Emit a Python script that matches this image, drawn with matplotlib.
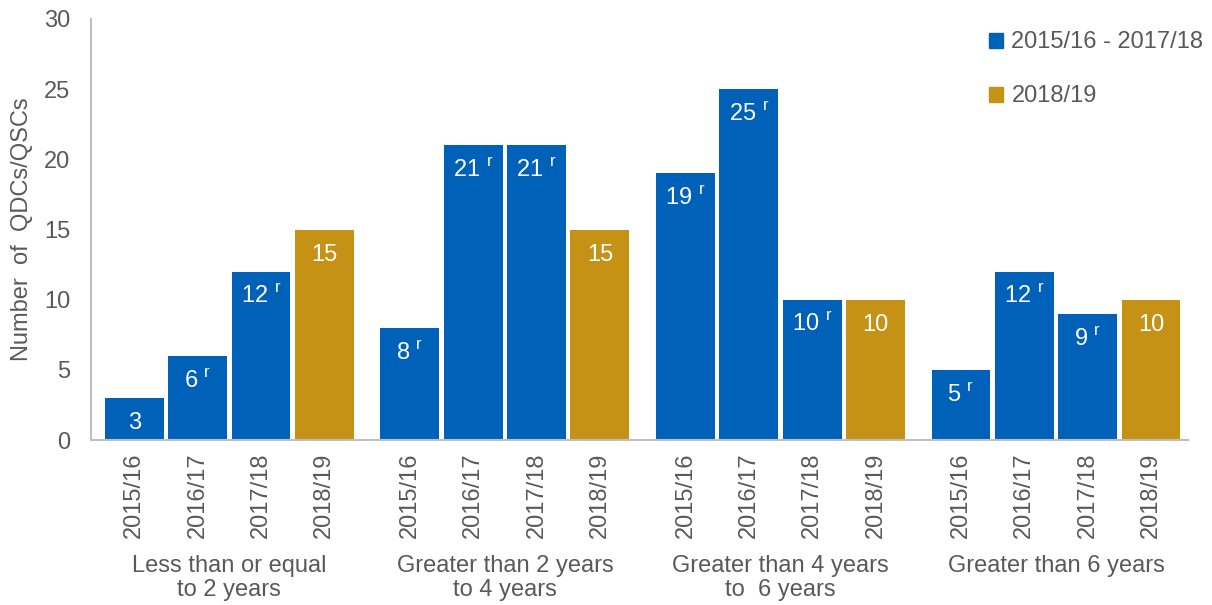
import numpy as np
import matplotlib.pyplot as plt

# Number of QDCs/QSCs by time band and year
grupos = ["Less than or equal\nto 2 years", "Greater than 2 years\nto 4 years",
          "Greater than 4 years\nto  6 years", "Greater than 6 years"]
anios = ["2015/16", "2016/17", "2017/18", "2018/19"]
valores = [
    [3, 6, 12, 15],
    [8, 21, 21, 15],
    [19, 25, 10, 10],
    [5, 12, 9, 10],
]
# revised figures are flagged with an "r"
revisado = [
    [False, True, True, False],
    [True, True, True, False],
    [True, True, True, False],
    [True, True, True, False],
]
series = ["2015/16 - 2017/18", "2018/19"]

AZUL = "#0061B9"
ORO = "#C69216"
GRIS_TEXTO = "#595959"
GRIS_EJE = "#BFBFBF"
TAM = 17

plt.rcParams["font.family"] = ["Liberation Sans", "DejaVu Sans"]

fig = plt.figure(figsize=(12.12, 6.05), dpi=100)
ax = fig.add_axes([0.075, 0.2727, 0.905, 0.6959])

paso_grupo = 4.35
ancho = 0.93
posiciones = []
for g, fila in enumerate(valores):
    for j, v in enumerate(fila):
        x = g * paso_grupo + j
        posiciones.append(x)
        color = ORO if j == len(fila) - 1 else AZUL
        ax.bar(x, v, width=ancho, color=color)
        etiqueta = str(v)
        if revisado[g][j]:
            etiqueta += r" $^{\mathregular{r}}$"
        ax.annotate(etiqueta, (x, v), xytext=(0, -18), textcoords="offset points",
                    ha="center", va="center", color="white", fontsize=TAM)

ax.set_xlim(-0.685, 3 * paso_grupo + 3 + 0.58)
ax.set_ylim(0, 30)
ax.set_yticks(np.arange(0, 31, 5))
ax.set_xticks(posiciones)
ax.set_xticklabels(anios * len(grupos), rotation=90)
ax.tick_params(axis="both", length=0, labelsize=TAM, colors=GRIS_TEXTO)
ax.tick_params(axis="y", pad=15)
ax.tick_params(axis="x", pad=9)

for g, nombre in enumerate(grupos):
    ax.text(g * paso_grupo + 1.5, -0.272, nombre, transform=ax.get_xaxis_transform(),
            ha="center", va="top", fontsize=TAM, color=GRIS_TEXTO, linespacing=1.12)

ax.set_ylabel("Number  of  QDCs/QSCs", fontsize=TAM, color=GRIS_TEXTO, labelpad=8)

for lado in ["top", "right"]:
    ax.spines[lado].set_visible(False)
for lado in ["left", "bottom"]:
    ax.spines[lado].set_color(GRIS_EJE)
    ax.spines[lado].set_linewidth(1.5)

manijas = [plt.Rectangle((0, 0), 1, 1, color=AZUL), plt.Rectangle((0, 0), 1, 1, color=ORO)]
leyenda = fig.legend(manijas, series, loc="upper left", bbox_to_anchor=(0.816, 0.948),
                     frameon=False, fontsize=TAM, handlelength=0.6, handleheight=0.6,
                     handletextpad=0.35, labelspacing=1.35, borderpad=0, borderaxespad=0)
for t in leyenda.get_texts():
    t.set_color(GRIS_TEXTO)

fig.savefig("out.png", dpi=100)
